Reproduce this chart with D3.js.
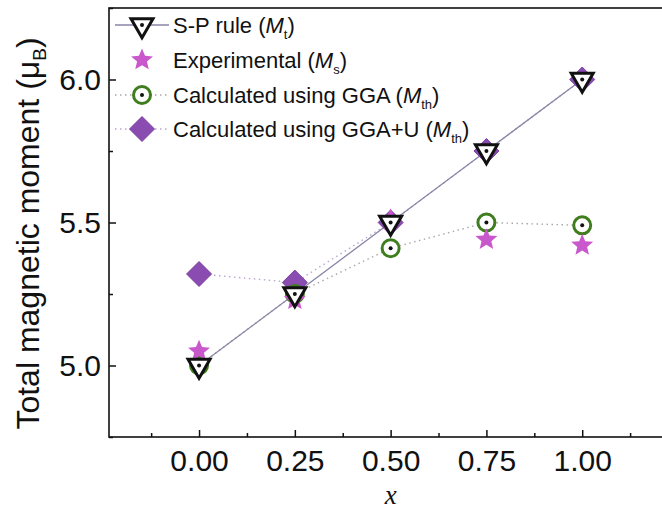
<!DOCTYPE html>
<html>
<head>
<meta charset="utf-8">
<script src="https://cdn.jsdelivr.net/npm/d3@7"></script>
<style>
  body { margin: 0; background: #fff; }
  svg { display: block; font-family: Arial, "Liberation Sans", sans-serif; }
</style>
</head>
<body>
<div id="chart"></div>
<script>
// data
const xValues = [0, 0.25, 0.5, 0.75, 1.0];
const spRule = [5.0, 5.25, 5.5, 5.75, 6.0];          // M_t
const experimental = [5.05, 5.23, 5.51, 5.44, 5.42];  // M_s
const ggaCalc = [5.0, 5.25, 5.41, 5.50, 5.49];        // M_th (GGA)
const ggaUCalc = [5.32, 5.29, 5.5, 5.75, 6.0];        // M_th (GGA+U)
const xTicks = [0, 0.25, 0.5, 0.75, 1.0];
const xMinorTicks = [-0.125, 0.125, 0.375, 0.625, 0.875, 1.125];
const yTicks = [5.0, 5.5, 6.0];
const yMinorTicks = [4.75, 5.25, 5.75, 6.25];

const W = 662, H = 509;
const svg = d3.select("#chart").append("svg")
    .attr("width", W)
    .attr("height", H);

const xScale = d3.scaleLinear().domain([-0.235, 1.25]).range([109, 678]);
const yScale = d3.scaleLinear().domain([4.75, 6.25]).range([437, 8]);

const pts = arr => xValues.map((x, i) => ({ x: x, y: arr[i] }));

// marker shapes (centred on origin)
function triPath(w) {
    const h = w * Math.sqrt(3) / 2;
    return `M${-w / 2},${-h / 3}L${w / 2},${-h / 3}L0,${2 * h / 3}Z`;
}
function starPath(R) {
    const r = R * 0.45;
    let p = "";
    for (let i = 0; i < 10; i++) {
        const rad = i % 2 === 0 ? R : r;
        const a = -Math.PI / 2 + i * Math.PI / 5;
        p += (i === 0 ? "M" : "L") + (rad * Math.cos(a)).toFixed(2) + "," + (rad * Math.sin(a)).toFixed(2);
    }
    return p + "Z";
}
function diamondPath(s) {
    return `M0,${-s}L${s},0L0,${s}L${-s},0Z`;
}

const colStar = "#c958cc";
const colGreen = "#3f7d1e";
const colPurple = "#8a4cb0";

function drawTriangle(g) {
    g.append("path").attr("d", triPath(22)).attr("fill", "#fff")
        .attr("stroke", "#111").attr("stroke-width", 3).attr("stroke-linejoin", "miter");
    g.append("circle").attr("r", 2).attr("fill", "#111");
}
function drawStar(g) {
    g.append("path").attr("d", starPath(11.5)).attr("fill", colStar);
}
function drawCircle(g) {
    g.append("circle").attr("r", 8.5).attr("fill", "#fff")
        .attr("stroke", colGreen).attr("stroke-width", 3);
    g.append("circle").attr("r", 2).attr("fill", "#111");
}
function drawDiamond(g) {
    g.append("path").attr("d", diamondPath(12.5)).attr("fill", colPurple)
        .attr("stroke", "#7a3fa0").attr("stroke-width", 1);
}

const line = d3.line().x(d => xScale(d.x)).y(d => yScale(d.y));

// connecting lines
svg.append("path").datum(pts(ggaUCalc)).attr("d", line)
    .attr("fill", "none").attr("stroke", "#b9a6d2").attr("stroke-width", 1.4)
    .attr("stroke-dasharray", "1.5,3.5");
svg.append("path").datum(pts(ggaCalc)).attr("d", line)
    .attr("fill", "none").attr("stroke", "#a8a8a8").attr("stroke-width", 1.4)
    .attr("stroke-dasharray", "1.5,3.5");
svg.append("path").datum(pts(spRule)).attr("d", line)
    .attr("fill", "none").attr("stroke", "#8a84a6").attr("stroke-width", 1.3);

// markers
function markers(arr, drawFn) {
    svg.append("g").selectAll("g").data(pts(arr)).join("g")
        .attr("transform", d => `translate(${xScale(d.x)},${yScale(d.y)})`)
        .each(function () { drawFn(d3.select(this)); });
}
markers(ggaUCalc, drawDiamond);
markers(ggaCalc, drawCircle);
markers(experimental, drawStar);
markers(spRule, drawTriangle);

// frame
svg.append("rect")
    .attr("x", xScale.range()[0]).attr("y", yScale.range()[1])
    .attr("width", xScale.range()[1] - xScale.range()[0])
    .attr("height", yScale.range()[0] - yScale.range()[1])
    .attr("fill", "none").attr("stroke", "#111").attr("stroke-width", 1.6);

// axes with inward ticks
svg.append("g").attr("transform", `translate(0,${yScale.range()[0]})`)
    .call(d3.axisBottom(xScale).tickValues(xTicks).tickFormat(d3.format(".2f"))
        .tickSizeInner(-7).tickSizeOuter(0).tickPadding(13));
svg.append("g").attr("transform", `translate(0,${yScale.range()[0]})`)
    .call(d3.axisBottom(xScale).tickValues(xMinorTicks).tickFormat("")
        .tickSizeInner(-4).tickSizeOuter(0));

svg.append("g").attr("transform", `translate(${xScale.range()[0]},0)`)
    .call(d3.axisLeft(yScale).tickValues(yTicks).tickFormat(d3.format(".1f"))
        .tickSizeInner(-7).tickSizeOuter(0).tickPadding(8));
svg.append("g").attr("transform", `translate(${xScale.range()[0]},0)`)
    .call(d3.axisLeft(yScale).tickValues(yMinorTicks).tickFormat("")
        .tickSizeInner(-4).tickSizeOuter(0));

svg.selectAll(".domain").remove();
svg.selectAll(".tick line").attr("stroke", "#111").attr("stroke-width", 1.5);
svg.selectAll(".tick text")
    .style("font-size", "30px")
    .style("font-family", "Arial, 'Liberation Sans', sans-serif")
    .attr("fill", "#111");

// axis titles
svg.append("text")
    .attr("x", xScale(0.5))
    .attr("y", 504)
    .attr("text-anchor", "middle")
    .style("font-family", "'Liberation Serif', 'Times New Roman', serif")
    .style("font-style", "italic")
    .style("font-size", "27px")
    .attr("fill", "#111")
    .text("x");

const yTitle = svg.append("text")
    .attr("transform", `translate(39,${(yScale.range()[0] + 30) / 2}) rotate(-90)`)
    .attr("text-anchor", "middle")
    .style("font-size", "32px")
    .attr("fill", "#111");
yTitle.append("tspan").text("Total magnetic moment (\u03bc");
yTitle.append("tspan").attr("dy", 7).style("font-size", "19px").text("B");
yTitle.append("tspan").attr("dy", -7).text(")");

// legend
const legendItems = [
    { label: "S-P rule (", sub: "t", draw: drawTriangle, line: "solid", stroke: "#8a84a6" },
    { label: "Experimental (", sub: "s", draw: drawStar, line: null },
    { label: "Calculated using GGA (", sub: "th", draw: drawCircle, line: "dot", stroke: "#a8a8a8" },
    { label: "Calculated using GGA+U (", sub: "th", draw: drawDiamond, line: "dot", stroke: "#b9a6d2" }
];
const legendY = [25, 60, 95, 129];
const legend = svg.append("g").attr("class", "legend");
legendItems.forEach((item, i) => {
    const cy = legendY[i];
    if (item.line) {
        legend.append("line")
            .attr("x1", 115).attr("x2", 169).attr("y1", cy).attr("y2", cy)
            .attr("stroke", item.stroke).attr("stroke-width", 1.4)
            .attr("stroke-dasharray", item.line === "dot" ? "1.5,3.5" : null);
    }
    const g = legend.append("g").attr("transform", `translate(142,${cy})`);
    item.draw(g);
    const t = legend.append("text")
        .attr("x", 173).attr("y", cy + 8)
        .style("font-size", "22px")
        .attr("fill", "#111");
    t.append("tspan").text(item.label);
    t.append("tspan").style("font-style", "italic").text("M");
    t.append("tspan").attr("dy", 6).style("font-size", "13px").text(item.sub);
    t.append("tspan").attr("dy", -6).text(")");
});
</script>
</body>
</html>
